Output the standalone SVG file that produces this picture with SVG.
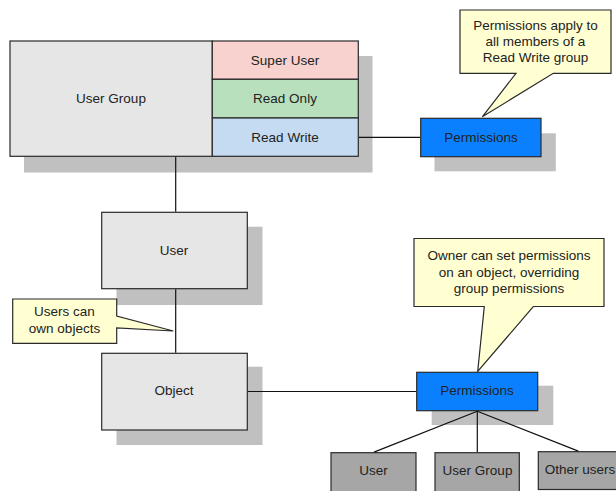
<svg xmlns="http://www.w3.org/2000/svg" width="616" height="491" viewBox="0 0 616 491">
<style>
text{font-family:"Liberation Sans",Arial,sans-serif;font-size:13.5px;fill:#222;text-anchor:middle;dominant-baseline:central}
.sh{fill:#c0c0c0;stroke:none}
.box{stroke:#2a2a2a;stroke-width:1.2}
.gray{fill:#e6e6e6}
.blue{fill:#0a80ff}
.dark{fill:#a6a6a6}
.note{fill:#ffffd2;stroke:#2a2a2a;stroke-width:1.2}
.ln{stroke:#111;stroke-width:1.2;fill:none}
</style>
<rect width="616" height="491" fill="#fff"/>
<g id="user-group">
<rect class="sh" x="24" y="56" width="348.5" height="116.5"/>
<rect class="box gray" x="10" y="41" width="202.3" height="115.3"/>
<text x="111" y="98.5">User Group</text>
</g>
<g id="super-user">
<rect class="box" fill="#f8d2ce" x="212.3" y="41" width="146" height="38.3"/>
<text x="285" y="60">Super User</text>
</g>
<g id="read-only">
<rect class="box" fill="#b9e0bd" x="212.3" y="79.3" width="146" height="38.7"/>
<text x="285" y="98.5">Read Only</text>
</g>
<g id="read-write">
<rect class="box" fill="#c5dbf1" x="212.3" y="118" width="146" height="38.3"/>
<text x="285" y="137">Read Write</text>
</g>
<g id="permissions-1">
<rect class="sh" x="434.5" y="133.3" width="121.3" height="38"/>
<rect class="box blue" x="420.7" y="118.3" width="120.3" height="38.4"/>
<text x="481" y="137.5">Permissions</text>
</g>
<g id="note-1">
<path class="note" d="M460,10 H611 V73.3 H553.3 L482.3,116.8 L516,73.3 H460 Z"/>
<text x="535.5" y="25.5">Permissions apply to</text>
<text x="535.5" y="41.5">all members of a</text>
<text x="535.5" y="57">Read Write group</text>
</g>
<g id="user">
<rect class="sh" x="116.5" y="226.7" width="146" height="78.3"/>
<rect class="box gray" x="101.7" y="212.3" width="145.6" height="76.4"/>
<text x="174" y="250">User</text>
</g>
<g id="note-3">
<path class="note" d="M12.7,299 H116.7 V316 L173.3,331 L116.7,328 V343.3 H12.7 Z"/>
<text x="64.5" y="311.7">Users can</text>
<text x="64.5" y="328">own objects</text>
</g>
<g id="object">
<rect class="sh" x="116.5" y="366.7" width="146" height="78.3"/>
<rect class="box gray" x="101.7" y="353.3" width="145.6" height="76.7"/>
<text x="174" y="390.5">Object</text>
</g>
<g id="note-2">
<path class="note" d="M414,238.5 H604 V306.5 H533.3 L477.7,371.5 L484.3,306.5 H414 Z"/>
<text x="509" y="255">Owner can set permissions</text>
<text x="509" y="272.5">on an object, overriding</text>
<text x="509" y="288.5">group permissions</text>
</g>
<g id="permissions-2">
<rect class="sh" x="431.7" y="385.7" width="121.6" height="39.3"/>
<rect class="box blue" x="416.7" y="372.3" width="121" height="38.4"/>
<text x="477" y="390.5">Permissions</text>
</g>
<g id="user-2">
<rect class="box dark" x="331" y="452.7" width="85" height="45"/>
<text x="373.5" y="470.5">User</text>
</g>
<g id="user-group-2">
<rect class="box dark" x="435" y="452.7" width="84.3" height="45"/>
<text x="477.5" y="470.5">User Group</text>
</g>
<g id="other-users">
<rect class="box dark" x="538.3" y="451.7" width="90" height="37.8"/>
<text x="580" y="469.5">Other users</text>
</g>
<g id="connectors">
<line class="ln" x1="175.7" y1="156.9" x2="175.7" y2="211.7"/>
<line class="ln" x1="175.7" y1="289.3" x2="175.7" y2="352.7"/>
<line class="ln" x1="358.9" y1="137.3" x2="420.1" y2="137.3"/>
<line class="ln" x1="247.9" y1="391.5" x2="416.1" y2="391.5"/>
<line class="ln" x1="477.3" y1="411.3" x2="374" y2="452.1"/>
<line class="ln" x1="477.3" y1="411.3" x2="477.3" y2="452.1"/>
<line class="ln" x1="477.3" y1="411.3" x2="578.3" y2="451.1"/>
</g>
</svg>
